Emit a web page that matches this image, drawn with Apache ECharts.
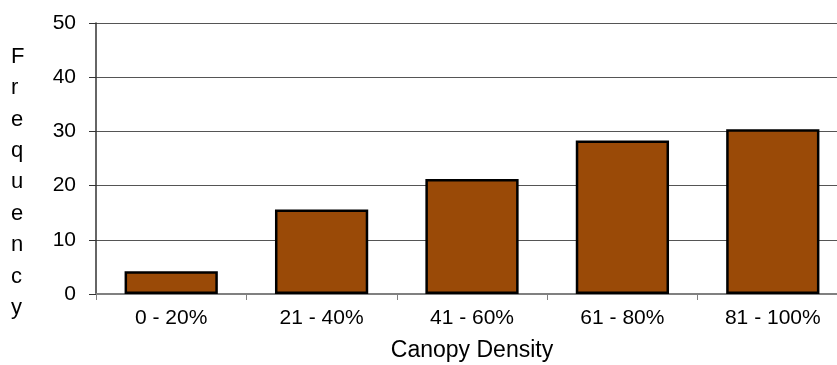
<!DOCTYPE html>
<html>
<head>
<meta charset="utf-8">
<script src="https://cdn.jsdelivr.net/npm/echarts@6/dist/echarts.min.js"></script>
<style>
  html, body { margin: 0; padding: 0; background: #fff; }
  #chart { width: 837px; height: 365px; }
</style>
</head>
<body>
<div id="chart"></div>
<script>
// Canopy density classes and how often each occurs
const categories = ['0 - 20%', '21 - 40%', '41 - 60%', '61 - 80%', '81 - 100%'];
const frequency = [4.2, 15.6, 21.2, 28.3, 30.4];
const yTicks = [0, 10, 20, 30, 40, 50];
const xTitle = 'Canopy Density';
const yTitle = 'Frequency';

const font = '"Liberation Sans", Arial, sans-serif';
const chart = echarts.init(document.getElementById('chart'), null, { renderer: 'canvas' });

chart.setOption({
  animation: false,
  backgroundColor: '#ffffff',
  grid: {
    left: 96,
    top: 23,
    width: 752,
    height: 271,
    containLabel: false,
    outerBoundsMode: 'none'
  },
  // vertical y-axis title, one letter per line
  graphic: [{
    type: 'text',
    left: 11,
    top: 41,
    style: {
      text: yTitle.split('').join('\n'),
      font: '22px ' + font,
      fill: '#000',
      lineHeight: 31.4,
      align: 'center',
      width: 22
    }
  }],
  xAxis: {
    type: 'category',
    data: categories,
    name: xTitle,
    nameLocation: 'middle',
    nameGap: 45,
    nameTextStyle: { fontFamily: font, fontSize: 23, color: '#000' },
    axisLine: { show: true, lineStyle: { color: '#808080', width: 2 } },
    axisTick: { show: true, alignWithLabel: false, length: 6, lineStyle: { color: '#808080', width: 1 } },
    axisLabel: { fontFamily: font, fontSize: 21, color: '#000', margin: 14 },
    splitLine: { show: false }
  },
  yAxis: {
    type: 'value',
    min: yTicks[0],
    max: yTicks[yTicks.length - 1],
    interval: yTicks[1] - yTicks[0],
    axisLine: { show: true, lineStyle: { color: '#333', width: 1.5 } },
    axisTick: { show: true, length: 7, lineStyle: { color: '#333', width: 1 } },
    axisLabel: { fontFamily: font, fontSize: 21, color: '#000', margin: 20 },
    splitLine: { show: true, lineStyle: { color: '#555', width: 1 } }
  },
  series: [{
    type: 'bar',
    data: frequency,
    barCategoryGap: '38%',
    itemStyle: { color: '#9A4A07', borderColor: '#000', borderWidth: 2.5 }
  }]
});
</script>
</body>
</html>
